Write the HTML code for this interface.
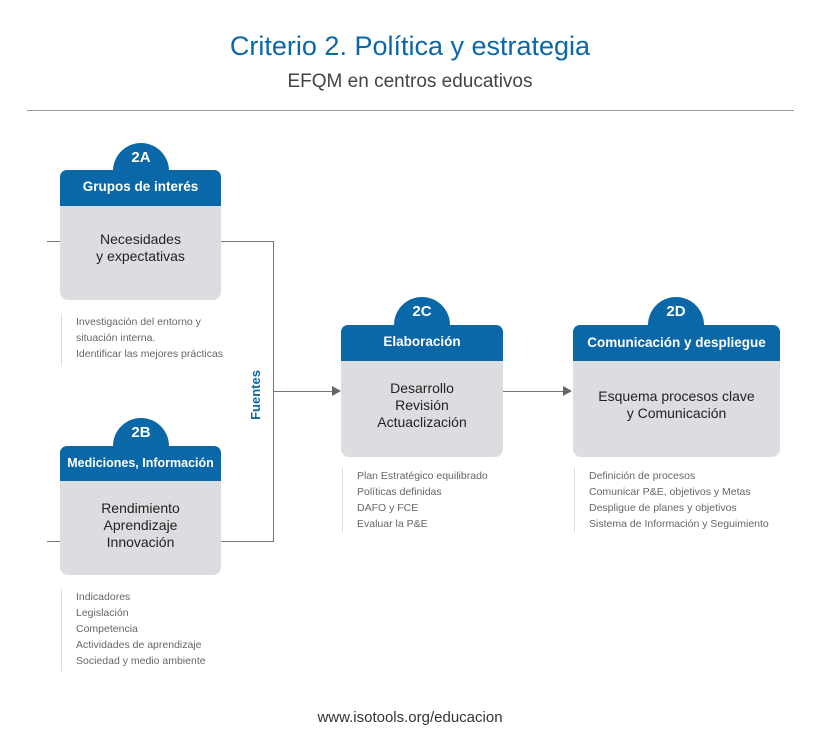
<!DOCTYPE html>
<html><head><meta charset="utf-8"><style>
body{margin:0;width:820px;height:756px;background:#fff;font-family:"Liberation Sans",sans-serif;position:relative;overflow:hidden}
.a{position:absolute}
.t{position:absolute;left:0;width:820px;text-align:center}
.tab{position:absolute;width:56px;height:56px;border-radius:50%;background:#0a67a8;color:#fff;font-weight:bold;font-size:15px;text-align:center;line-height:30px}
.hd{position:absolute;background:#0a67a8;color:#fff;font-weight:bold;font-size:13.5px;text-align:center;border-radius:7px 7px 0 0}
.bd{position:absolute;background:#dcdde0;color:#222;font-size:14px;text-align:center;line-height:17px;border-radius:0 0 8px 8px}
.ls{position:absolute;font-size:10.5px;color:#666;line-height:16px;border-left:1px solid #ddd;padding-left:14px}
.ln{position:absolute;background:#777}
</style></head><body>
<div class="t" style="top:31px;font-size:27px;color:#0a67a8">Criterio 2. Política y estrategia</div>
<div class="t" style="top:71px;font-size:19px;color:#444">EFQM en centros educativos</div>
<div class="a" style="left:27px;top:110px;width:767px;height:1px;background:#999"></div>

<div class="ln" style="left:47px;top:241px;width:14px;height:1px"></div>
<div class="ln" style="left:47px;top:541px;width:14px;height:1px"></div>
<div class="ln" style="left:221px;top:241px;width:52px;height:1px"></div>
<div class="ln" style="left:221px;top:541px;width:52px;height:1px"></div>
<div class="ln" style="left:273px;top:241px;width:1px;height:301px"></div>
<div class="ln" style="left:273px;top:391px;width:60px;height:1px"></div>
<div class="a" style="left:332px;top:386px;border-left:9px solid #666;border-top:5px solid transparent;border-bottom:5px solid transparent"></div>
<div class="ln" style="left:503px;top:391px;width:61px;height:1px"></div>
<div class="a" style="left:563px;top:386px;border-left:9px solid #666;border-top:5px solid transparent;border-bottom:5px solid transparent"></div>
<div class="a" style="left:226px;top:387px;width:60px;text-align:center;transform:rotate(-90deg);color:#0a67a8;font-weight:bold;font-size:13px;line-height:16px">Fuentes</div>

<div class="tab" style="left:113px;top:143px">2A</div>
<div class="hd" style="left:60px;top:170px;width:161px;height:36px;line-height:34px">Grupos de interés</div>
<div class="bd" style="left:60px;top:206px;width:161px;height:94px"><div style="padding-top:25px">Necesidades<br>y expectativas</div></div>
<div class="ls" style="left:61px;top:314px;height:52px">Investigación del entorno y<br>situación interna.<br>Identificar las mejores prácticas</div>

<div class="tab" style="left:113px;top:418px">2B</div>
<div class="hd" style="left:60px;top:446px;width:161px;height:35px;line-height:35px;font-size:12.5px">Mediciones, Información</div>
<div class="bd" style="left:60px;top:481px;width:161px;height:94px"><div style="padding-top:19px">Rendimiento<br>Aprendizaje<br>Innovación</div></div>
<div class="ls" style="left:61px;top:589px;height:82px">Indicadores<br>Legislación<br>Competencia<br>Actividades de aprendizaje<br>Sociedad y medio ambiente</div>

<div class="tab" style="left:394px;top:297px">2C</div>
<div class="hd" style="left:341px;top:325px;width:162px;height:36px;line-height:34px">Elaboración</div>
<div class="bd" style="left:341px;top:361px;width:162px;height:96px"><div style="padding-top:19px">Desarrollo<br>Revisión<br>Actuaclización</div></div>
<div class="ls" style="left:342px;top:468px;height:64px">Plan Estratégico equilibrado<br>Políticas definidas<br>DAFO y FCE<br>Evaluar la P&amp;E</div>

<div class="tab" style="left:648px;top:297px">2D</div>
<div class="hd" style="left:573px;top:325px;width:207px;height:36px;line-height:36px">Comunicación y despliegue</div>
<div class="bd" style="left:573px;top:361px;width:207px;height:96px"><div style="padding-top:27px">Esquema procesos clave<br>y Comunicación</div></div>
<div class="ls" style="left:574px;top:468px;height:64px">Definición de procesos<br>Comunicar P&amp;E, objetivos y Metas<br>Despligue de planes y objetivos<br>Sistema de Información y Seguimiento</div>

<div class="t" style="top:709px;font-size:15px;color:#333">www.isotools.org/educacion</div>
</body></html>
